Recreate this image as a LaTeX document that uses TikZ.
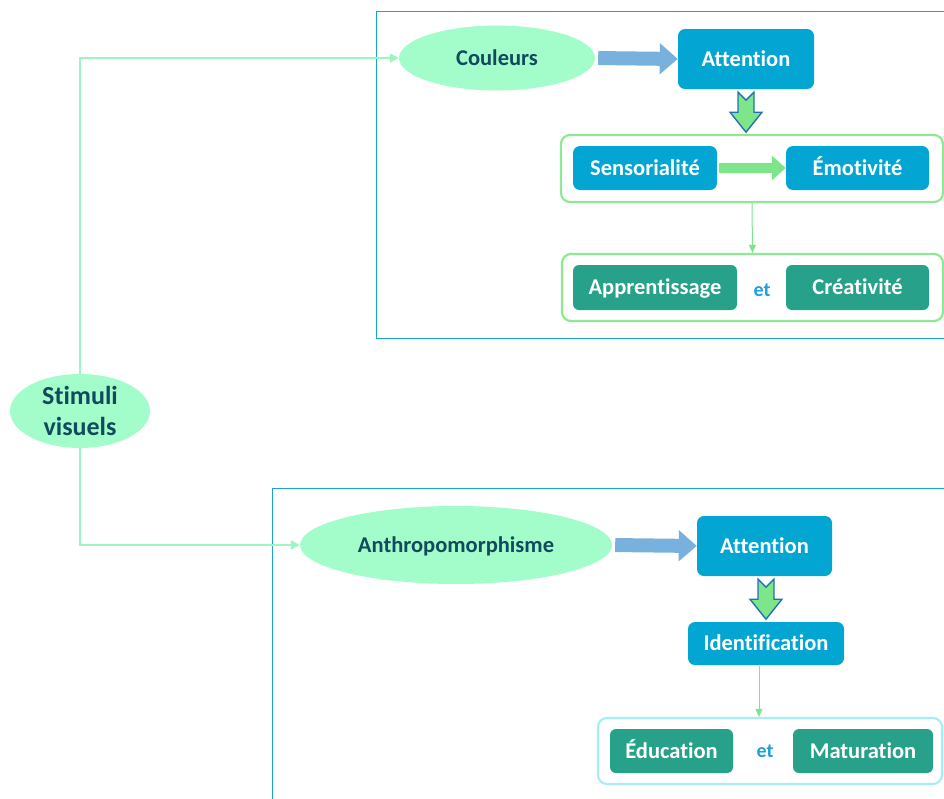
\documentclass[tikz,border=0pt]{standalone}
\usepackage{fontspec}
\setmainfont{Carlito}[Ligatures=NoCommon]
\usetikzlibrary{arrows.meta,calc,shapes.geometric}
\definecolor{ellfill}{HTML}{A3FDCB}
\definecolor{ellline}{HTML}{9DF5C4}
\definecolor{darktxt}{HTML}{114A5C}
\definecolor{bluebox}{HTML}{03A5D2}
\definecolor{tealbox}{HTML}{27A18A}
\definecolor{framecol}{HTML}{1BA3D6}
\definecolor{contgreen}{HTML}{8EE894}
\definecolor{contcyan}{HTML}{A6EEF4}
\definecolor{blockblue}{HTML}{78B1DE}
\definecolor{blockgreen}{HTML}{7DE58A}
\definecolor{outlineblue}{HTML}{2270B8}
\definecolor{etblue}{HTML}{1FA0D6}
\tikzset{
  fixtext/.style={text height=18pt, text depth=3.5pt},
  ell/.style={ellipse, fill=ellfill, draw=none, text=darktxt, font=\bfseries\fontsize{22.5}{26}\selectfont, inner sep=0pt},
  bbox/.style={rectangle, rounded corners=7pt, fill=bluebox, text=white, font=\bfseries\fontsize{22.5}{26}\selectfont, inner sep=0pt, fixtext},
  tbox/.style={rectangle, rounded corners=6pt, fill=tealbox, text=white, font=\bfseries\fontsize{22.5}{26}\selectfont, inner sep=0pt, fixtext},
  cont/.style={rectangle, rounded corners=9pt, draw=contgreen, line width=2.2pt, inner sep=0pt},
  etlbl/.style={text=etblue, font=\bfseries\fontsize{20}{24}\selectfont},
  conn/.style={draw=ellline, line width=2.6pt, -{Triangle[length=9pt,width=9pt]}},
  thinarr/.style={draw=blockgreen, line width=1pt, -{Triangle[length=8pt,width=7pt]}},
  bluearr/.style={draw=blockblue, line width=14pt, -{Triangle[length=18pt,width=30pt]}},
  greenarr/.style={draw=blockgreen, line width=10pt, -{Triangle[length=14pt,width=24pt]}},
  downarr/.style={fill=blockgreen, draw=outlineblue, line width=1.4pt, line join=miter},
  frame/.style={draw=framecol, line width=1pt}
}
\begin{document}
\begin{tikzpicture}[x=1pt,y=-1pt]
\useasboundingbox (0,0) rectangle (944,798);
% frames
\draw[frame] (946,11) -- (376.5,11) -- (376.5,338) -- (946,338);
\draw[frame] (946,488) -- (272.5,488) -- (272.5,800);
% nodes
\node[ell, minimum width=140pt, minimum height=74pt, align=center, font=\bfseries\fontsize{26}{31}\selectfont] (stim) at (80,411) {Stimuli\\visuels};
\node[ell, fixtext, minimum width=196pt, minimum height=65pt] (coul) at (497,58) {Couleurs};
\node[bbox, minimum width=136pt, minimum height=60pt] (att1) at (746,59) {Attention};
\node[cont, minimum width=382pt, minimum height=67pt] (cont1) at (752,168.5) {};
\node[bbox, minimum width=144pt, minimum height=44pt] (sens) at (645,168) {Sensorialité};
\node[bbox, minimum width=143pt, minimum height=44pt] (emot) at (857.5,168) {Émotivité};
\node[cont, minimum width=381pt, minimum height=67pt] (cont2) at (752.5,287.5) {};
\node[tbox, minimum width=164pt, minimum height=45pt] (appr) at (655,287.5) {Apprentissage};
\node[etlbl, fixtext] (et1) at (762,289) {et};
\node[tbox, minimum width=143pt, minimum height=45pt] (crea) at (857.5,287.5) {Créativité};
\node[ell, fixtext, minimum width=312pt, minimum height=78pt] (anth) at (456,545) {Anthropomorphisme};
\node[bbox, minimum width=135pt, minimum height=60pt] (att2) at (764.5,546) {Attention};
\node[bbox, minimum width=156pt, minimum height=43pt] (ident) at (766,643.5) {Identification};
\node[cont, draw=contcyan, minimum width=344pt, minimum height=66pt] (cont3) at (770,751) {};
\node[tbox, minimum width=123pt, minimum height=44pt] (educ) at (671.5,751) {Éducation};
\node[etlbl, fixtext] (et2) at (765,750) {et};
\node[tbox, minimum width=140pt, minimum height=44pt] (matu) at (863,751) {Maturation};
% connectors
\draw[conn] (stim.north) |- (coul.west);
\draw[conn] (stim.south) |- (anth.west);
\draw[bluearr, shorten <=3pt] (coul.east) -- (att1.west);
\draw[bluearr, shorten <=3pt] (anth.east) -- (att2.west);
\draw[greenarr, shorten <=2pt] (sens.east) -- (emot.west);
\draw[thinarr] (cont1.south) -- (cont2.north);
\draw[thinarr] ($(ident.south)+(-7,1)$) -- ($(cont3.north)+(-11,0)$);
% block down arrows
\draw[downarr] ($(att1.south)+(-8,3)$) -- ++(8,8) -- ++(8,-8) -- ++(0,20) -- ++(8,0) -- ++(-16,20) -- ++(-16,-20) -- ++(8,0) -- cycle;
\draw[downarr] ($(att2.south)+(1.5,3)$) ++(-8,0) -- ++(8,8) -- ++(8,-8) -- ++(0,20) -- ++(8,0) -- ++(-16,20) -- ++(-16,-20) -- ++(8,0) -- cycle;
\end{tikzpicture}
\end{document}
